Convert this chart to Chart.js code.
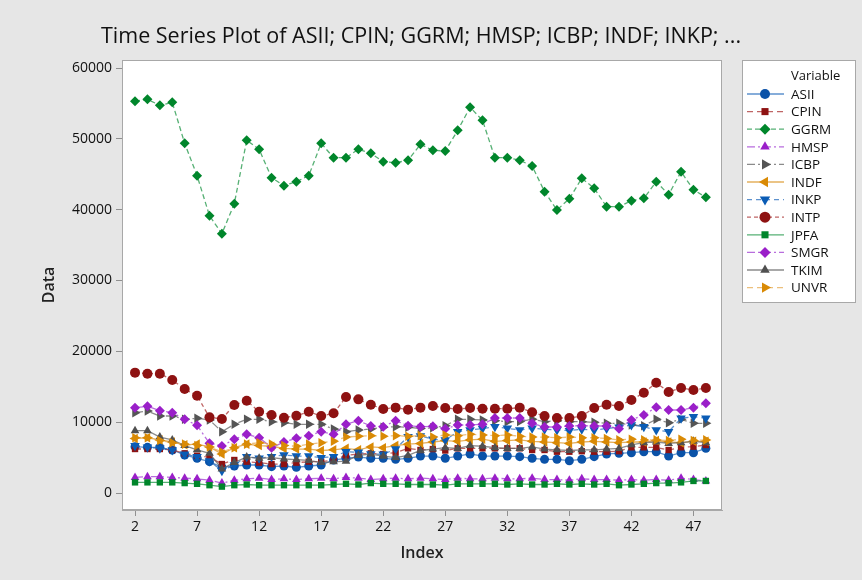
<!DOCTYPE html>
<html>
<head>
<meta charset="utf-8">
<script src="https://cdn.jsdelivr.net/npm/chart.js@4.4.1/dist/chart.umd.min.js"></script>
<style>
  html, body { margin: 0; padding: 0; background: #e6e6e6; }
  #wrap { width: 862px; height: 580px; }
</style>
</head>
<body>
<div id="wrap"><canvas id="tsChart" width="862" height="580"></canvas></div>
<script>
// index values (x axis) and tick labels
const indexVals = [2,3,4,5,6,7,8,9,10,11,12,13,14,15,16,17,18,19,20,21,22,23,24,25,26,27,28,29,30,31,32,33,34,35,36,37,38,39,40,41,42,43,44,45,46,47,48];
const xTicks = [2, 7, 12, 17, 22, 27, 32, 37, 42, 47];
const yTicks = [0, 10000, 20000, 30000, 40000, 50000, 60000];

// series values
const ASII = [6540,6450,6450,6070,5370,4900,4420,3630,3810,3950,3950,3720,3810,3630,3810,3950,4660,4900,5080,4900,4900,4750,4900,5220,5220,4900,5220,5510,5220,5220,5220,5130,4900,4750,4750,4560,4750,5130,5510,5600,5690,5830,5830,5220,5690,5690,6310];
const CPIN = [6210,6210,6210,6070,5600,5270,5040,4090,4660,4420,4280,4090,4090,4280,4420,4420,4660,5300,5500,5600,5500,5700,6300,6070,6200,6000,6310,6310,6310,6310,6310,6310,6070,6070,5830,5830,5900,5830,5830,5900,6450,6450,6450,6070,6450,6540,6780];
const GGRM = [55300,55580,54730,55150,49370,44800,39150,36610,40850,49790,48520,44520,43390,43950,44800,49370,47340,47340,48520,47960,46780,46630,46970,49230,48380,48280,51200,54450,52620,47340,47340,46970,46170,42540,39950,41550,44430,43020,40420,40420,41270,41600,43950,42120,45360,42820,41750];
const HMSP = [2200,2300,2300,2200,2100,2000,1800,1400,1800,2000,2100,1900,2000,1900,2000,2100,2000,2200,2100,1900,2000,2100,2000,2100,2000,1900,2100,2000,2000,2100,2000,2000,2100,1900,1900,1800,2000,1900,1900,1800,1900,1800,1900,1800,2100,1900,1700];
const ICBP = [11340,11580,10870,10870,10400,10540,10310,8660,9700,10400,10400,10070,9930,9700,9700,9700,9040,8660,8890,9040,9270,9360,9270,9100,9200,9500,10400,10400,10310,10200,10070,10100,10400,10070,10210,10070,10070,9980,9840,9840,9600,9500,10400,9930,10400,9840,9840];
const INDF = [7700,7800,7500,7200,6800,6900,6500,5500,6400,6900,6700,6600,6300,6200,6200,6000,6100,6300,6100,6500,6400,6700,6900,7000,7200,7400,7300,7500,7600,7300,7400,7500,7300,7200,7100,7000,7200,7300,7200,7100,7200,7200,7400,7200,7100,7300,7300];
const INKP = [6680,6450,6310,6070,5460,5130,4520,3150,3950,5130,4900,5130,5370,5220,5220,4990,5130,5830,5740,5510,5460,6210,7950,8050,7580,7480,8660,8900,9100,9360,9130,8890,9130,9000,8900,8800,9000,8890,9100,9300,9600,9360,8890,8660,10540,10780,10540];
const INTP = [16990,16840,16840,15950,14680,13740,10680,10450,12420,13030,11480,11010,10630,10910,11480,10870,11250,13550,13220,12470,11860,12050,11770,12050,12280,12000,11860,12000,11900,11900,11900,12050,11390,10870,10590,10590,10870,12000,12470,12280,13130,14160,15570,14260,14820,14540,14820];
const JPFA = [1500,1500,1500,1500,1400,1300,1100,900,1100,1200,1100,1100,1100,1100,1100,1100,1200,1300,1200,1400,1300,1300,1200,1200,1200,1100,1300,1300,1300,1300,1200,1300,1200,1200,1300,1200,1300,1200,1300,1100,1200,1300,1400,1400,1500,1700,1700];
const SMGR = [12050,12240,11620,11340,10400,9560,7020,6640,7580,8290,7810,6400,7200,7720,8090,8660,8290,9700,10210,9460,9360,10210,9500,9360,9410,9080,9600,9600,9700,10590,10590,10590,9840,9320,9320,9460,9510,9460,9460,9080,10310,11010,12100,11720,11720,12050,12660];
const TKIM = [8800,8800,7900,7500,6700,6100,5600,3400,4300,5100,4900,5000,4800,4700,4600,4300,4400,4500,5300,5500,5200,5000,5300,6000,6200,6400,6300,6700,6600,6400,6300,6300,6500,6200,6100,6000,6100,6100,6200,6300,6800,7100,7200,7000,7100,7300,7100];
const UNVR = [7800,7800,7400,7100,6900,6700,6500,5800,6400,6900,7100,6900,6700,6600,6900,7100,7300,7900,8000,8100,8000,8100,8000,8100,7900,8200,8100,8300,8200,8100,8200,8000,7900,7900,7800,7900,7800,7800,7700,7500,7600,7500,7500,7400,7600,7400,7500];

const names = ['ASII','CPIN','GGRM','HMSP','ICBP','INDF','INKP','INTP','JPFA','SMGR','TKIM','UNVR'];
const values = [ASII, CPIN, GGRM, HMSP, ICBP, INDF, INKP, INTP, JPFA, SMGR, TKIM, UNVR];

// look of each series (marker colour, line colour, marker, dash)
const looks = [
  { c: '#0a52a8', l: 'rgba(40,110,190,0.75)', p: 'circle',   rot: 0,   r: 4.5, dash: [] },
  { c: '#8e1212', l: 'rgba(170,50,50,0.75)',  p: 'rect',     rot: 0,   r: 4.5, dash: [6, 4] },
  { c: '#00862b', l: 'rgba(30,150,70,0.75)',  p: 'rectRot',  rot: 0,   r: 5,   dash: [5, 3] },
  { c: '#9a1fc9', l: 'rgba(160,60,210,0.75)', p: 'triangle', rot: 0,   r: 5,   dash: [8, 3, 2, 3] },
  { c: '#555555', l: 'rgba(100,100,100,0.75)',p: 'triangle', rot: 90,  r: 5.5, dash: [8, 3, 2, 3] },
  { c: '#d98a05', l: 'rgba(220,150,40,0.75)', p: 'triangle', rot: 270, r: 5.5, dash: [] },
  { c: '#0a5cb5', l: 'rgba(40,110,190,0.75)', p: 'triangle', rot: 180, r: 5.5, dash: [5, 4] },
  { c: '#8e1212', l: 'rgba(170,50,50,0.75)',  p: 'circle',   rot: 0,   r: 5,   dash: [4, 3] },
  { c: '#00862b', l: 'rgba(30,150,70,0.75)',  p: 'rect',     rot: 0,   r: 4.5, dash: [] },
  { c: '#9a1fc9', l: 'rgba(160,60,210,0.75)', p: 'rectRot',  rot: 0,   r: 5,   dash: [8, 3, 2, 3] },
  { c: '#505050', l: 'rgba(100,100,100,0.75)',p: 'triangle', rot: 0,   r: 5,   dash: [] },
  { c: '#d98a05', l: 'rgba(230,170,80,0.75)', p: 'triangle', rot: 90,  r: 5.5, dash: [6, 4] }
];

const datasets = names.map((n, i) => ({
  label: n,
  data: values[i].map((v, k) => ({ x: indexVals[k], y: v })),
  borderColor: looks[i].l,
  borderWidth: 1.3,
  borderDash: looks[i].dash,
  backgroundColor: looks[i].c,
  pointBackgroundColor: looks[i].c,
  pointBorderColor: looks[i].c,
  pointBorderWidth: 0,
  pointStyle: looks[i].p,
  pointRotation: looks[i].rot,
  pointRadius: looks[i].r,
  tension: 0,
  order: names.length - i
}));

const font = '"Open Sans", "Noto Sans", sans-serif';

// grey page, white plot area, frame, title and the legend box
const frame = {
  id: 'frame',
  beforeDraw(chart) {
    const { ctx, chartArea: a } = chart;
    ctx.save();
    ctx.fillStyle = '#e6e6e6';
    ctx.fillRect(0, 0, chart.width, chart.height);
    ctx.fillStyle = '#ffffff';
    ctx.fillRect(a.left, a.top, a.right - a.left, a.bottom - a.top);
    ctx.restore();
  },
  afterDraw(chart) {
    const { ctx, chartArea: a } = chart;
    ctx.save();
    ctx.strokeStyle = '#a8a8a8';
    ctx.lineWidth = 1;
    ctx.strokeRect(a.left + 0.5, a.top + 0.5, a.right - a.left - 1, a.bottom - a.top - 1);

    // title
    ctx.fillStyle = '#111';
    ctx.font = '500 21.5px ' + font;
    ctx.textAlign = 'center';
    ctx.textBaseline = 'middle';
    ctx.fillText('Time Series Plot of ASII; CPIN; GGRM; HMSP; ICBP; INDF; INKP; ...', 421, 37);

    // legend
    const lx = 742, ly = 60, lw = 114, lh = 243;
    ctx.fillStyle = '#ffffff';
    ctx.fillRect(lx, ly, lw, lh);
    ctx.strokeStyle = '#a8a8a8';
    ctx.strokeRect(lx + 0.5, ly + 0.5, lw - 1, lh - 1);
    ctx.fillStyle = '#111';
    ctx.font = '13px ' + font;
    ctx.textAlign = 'left';
    ctx.fillText('Variable', 791, 76);
    names.forEach((n, i) => {
      const y = 94 + i * 17.6;
      const s = looks[i];
      ctx.save();
      ctx.strokeStyle = s.l;
      ctx.lineWidth = 1.3;
      ctx.setLineDash(s.dash);
      ctx.beginPath();
      ctx.moveTo(747, y);
      ctx.lineTo(784, y);
      ctx.stroke();
      ctx.restore();
      ctx.fillStyle = s.c;
      ctx.strokeStyle = s.c;
      Chart.helpers.drawPoint(ctx, { pointStyle: s.p, radius: s.r + 0.5, rotation: s.rot, borderWidth: 0 }, 765, y);
      ctx.fillStyle = '#111';
      ctx.font = '13.5px ' + font;
      ctx.fillText(n, 791, y + 1);
    });
    ctx.restore();
  }
};

new Chart(document.getElementById('tsChart'), {
  type: 'line',
  data: { datasets: datasets },
  options: {
    responsive: false,
    animation: false,
    layout: { padding: { top: 60, right: 140, left: 0, bottom: 0 } },
    plugins: {
      legend: { display: false },
      tooltip: { enabled: false }
    },
    scales: {
      x: {
        type: 'linear',
        min: 0.95,
        max: 49.3,
        afterBuildTicks: (s) => { s.ticks = xTicks.map(v => ({ value: v })); },
        afterFit: (s) => { s.height = 70; },
        grid: { drawOnChartArea: false, color: '#909090', tickLength: 6 },
        border: { color: '#a8a8a8' },
        ticks: { color: '#111', font: { family: font, size: 14 }, padding: 3, callback: (v) => String(v) },
        title: { display: true, text: 'Index', color: '#222', font: { family: font, size: 16, weight: '600' }, padding: { bottom: 17 } }
      },
      y: {
        min: -2400,
        max: 61130,
        afterBuildTicks: (s) => { s.ticks = yTicks.map(v => ({ value: v })); },
        afterFit: (s) => { s.width = 122; },
        grid: { drawOnChartArea: false, color: '#909090', tickLength: 6 },
        border: { color: '#a8a8a8' },
        ticks: { color: '#111', font: { family: font, size: 14 }, padding: 4, callback: (v) => String(v) },
        title: { display: true, text: 'Data', color: '#222', font: { family: font, size: 16, weight: '600' }, padding: { top: 40 } }
      }
    }
  },
  plugins: [frame]
});
</script>
</body>
</html>
